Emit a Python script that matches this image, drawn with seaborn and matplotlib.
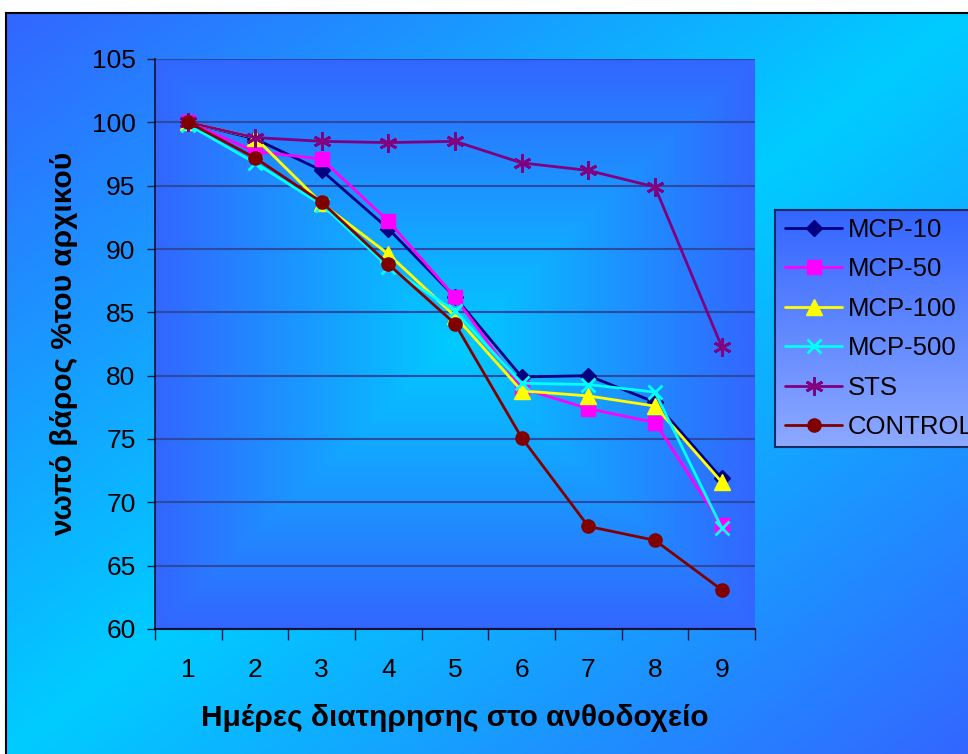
import numpy as np
import pandas as pd
import matplotlib
matplotlib.use("Agg")
import matplotlib.pyplot as plt
import seaborn as sns
from matplotlib.colors import to_rgb

# ---------------- data ----------------
days = [1, 2, 3, 4, 5, 6, 7, 8, 9]
series_names = ["MCP-10", "MCP-50", "MCP-100", "MCP-500", "STS", "CONTROL"]
mcp10 = [100, 98.7, 96.2, 91.6, 86.2, 79.9, 80.0, 77.9, 71.9]
mcp50 = [100, 97.7, 97.1, 92.2, 86.2, 79.0, 77.4, 76.3, 68.2]
mcp100 = [100, 98.8, 93.6, 89.6, 84.7, 78.8, 78.4, 77.6, 71.6]
mcp500 = [99.8, 96.8, 93.5, 88.6, 85.1, 79.4, 79.3, 78.7, 68.0]
sts = [100, 98.8, 98.5, 98.4, 98.5, 96.8, 96.2, 94.9, 82.3]
control = [100, 97.2, 93.7, 88.8, 84.1, 75.1, 68.1, 67.0, 63.1]
yticks = [60, 65, 70, 75, 80, 85, 90, 95, 100, 105]
xlabel = "Ημέρες διατηρησης στο ανθοδοχείο"
ylabel = "νωπό βάρος %του αρχικού"

values = [mcp10, mcp50, mcp100, mcp500, sts, control]
df = pd.DataFrame({
    "day": days * len(series_names),
    "value": sum(values, []),
    "series": [s for s in series_names for _ in days],
})

colors = {"MCP-10": "#000080", "MCP-50": "#FF00FF", "MCP-100": "#FFFF00",
          "MCP-500": "#00FFFF", "STS": "#800080", "CONTROL": "#800000"}
markers = {"MCP-10": "D", "MCP-50": "s", "MCP-100": "^",
           "MCP-500": "x", "STS": (6, 2, 0), "CONTROL": "o"}
msizes = {"MCP-10": 8.5, "MCP-50": 9.5, "MCP-100": 11,
          "MCP-500": 10, "STS": 13, "CONTROL": 9.5}

sns.set_theme(style="white")
plt.rcParams["font.family"] = ["Liberation Sans", "DejaVu Sans"]

W, H = 968, 754
fig = plt.figure(figsize=(W / 100, H / 100), dpi=100)
fig.patch.set_facecolor("white")

blue = np.array(to_rgb("#3366FF"))
cyan = np.array(to_rgb("#00CCFF"))

# outer chart-area background (diagonal gradient)
bx0, by_top = 6, 13
bg = fig.add_axes([bx0 / W, 0, 1 - bx0 / W, 1 - by_top / H], zorder=-10)
gx, gy = np.meshgrid(np.linspace(0, 1, 300), np.linspace(0, 1, 300))
s = np.clip(np.abs(gx + gy - 1.0), 0, 1)[..., None]
img = cyan * (1 - s) + blue * s
bg.imshow(img, aspect="auto", extent=[0, 1, 1, 0], interpolation="bilinear")
bg.set_xlim(0, 1); bg.set_ylim(1, 0)
bg.set_xticks([]); bg.set_yticks([])
for k in ["left", "top"]:
    bg.spines[k].set_color("black"); bg.spines[k].set_linewidth(1.5)
for k in ["right", "bottom"]:
    bg.spines[k].set_visible(False)

# main plot area
L, R, T, B = 155, 755, 59, 629
ax = fig.add_axes([L / W, 1 - B / H, (R - L) / W, (B - T) / H])
ax.patch.set_visible(False)
px, py = np.meshgrid(np.linspace(-1, 1, 400), np.linspace(-1, 1, 400))
t = np.clip(np.maximum(np.abs(px), np.abs(py)), 0, 1)[..., None]
pimg = cyan * (1 - t) + blue * t
ax.imshow(pimg, aspect="auto", extent=[0.5, 9.5, 60, 105], origin="upper",
          interpolation="bilinear", zorder=0)

for name in series_names:
    sub = df[df["series"] == name]
    c = colors[name]
    mk = markers[name]
    sns.lineplot(data=sub, x="day", y="value", ax=ax, color=c, marker=mk,
                 markersize=msizes[name], markeredgecolor=c, markerfacecolor=c,
                 markeredgewidth=2 if name in ("MCP-500", "STS") else 1,
                 linewidth=2, label=name, zorder=3, clip_on=False)

ax.set_xlim(0.5, 9.5)
ax.set_ylim(60, 105)
ax.set_yticks(yticks)
ax.set_xticks(days)
ax.set_xticks(np.arange(0.5, 10, 1), minor=True)
ax.yaxis.grid(True, color="#2B4AA0", linewidth=1.5)
ax.xaxis.grid(False)
ax.set_axisbelow(True)
ax.tick_params(axis="y", which="major", direction="out", length=6, width=1,
               color="#1a1a40", left=True, labelsize=19, pad=8, labelcolor="black")
ax.tick_params(axis="x", which="major", length=0, labelsize=19, pad=21,
               labelcolor="black")
ax.tick_params(axis="x", which="minor", direction="out", length=8, width=1,
               color="#1a1a40", bottom=True)
for k in ["top", "right"]:
    ax.spines[k].set_visible(False)
ax.spines["left"].set_color("#101030"); ax.spines["left"].set_linewidth(1.2)
ax.spines["bottom"].set_color("#101030"); ax.spines["bottom"].set_linewidth(1.5)

ax.set_xlabel(xlabel, fontsize=21.5, fontweight="bold", labelpad=16, color="black")
ax.set_ylabel(ylabel, fontsize=21.5, fontweight="bold", labelpad=10, color="black")

handles, labels = ax.get_legend_handles_labels()
ax.get_legend().remove()

# legend box with vertical gradient
lx0, ly0, ly1 = 775, 210, 447
lax = fig.add_axes([lx0 / W, 1 - ly1 / H, (W - lx0 + 20) / W, (ly1 - ly0) / H], zorder=5)
lg = np.linspace(0, 1, 200)[:, None, None]
light = np.array(to_rgb("#8DA9FF"))
limg = blue * (1 - lg) + light * lg
limg = np.repeat(limg, 2, axis=1)
lax.imshow(limg, aspect="auto", extent=[0, 1, 1, 0], interpolation="bilinear")
lax.set_xlim(0, 1); lax.set_ylim(1, 0)
lax.set_xticks([]); lax.set_yticks([])
for k in lax.spines:
    lax.spines[k].set_color("#1a2a60"); lax.spines[k].set_linewidth(1.5)
leg = lax.legend(handles, labels, loc="center left", bbox_to_anchor=(0.0, 0.5),
                 frameon=False, fontsize=18.5, handlelength=2.2, handletextpad=0.25,
                 labelspacing=0.6, borderaxespad=0.2, borderpad=0.2)
for txt in leg.get_texts():
    txt.set_color("black")

fig.savefig("out.png", dpi=100)
